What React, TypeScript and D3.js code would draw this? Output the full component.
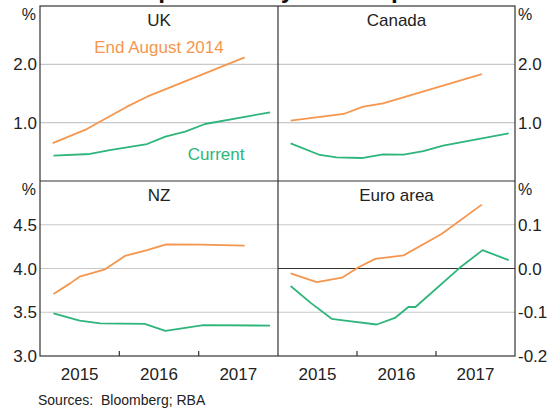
import React from "react";
import * as d3 from "d3";

type Pt = [number, number];

// Data: [time in years, value %]
const ukAug2014: Pt[] = [[2015.16, 0.65], [2015.59, 0.89], [2016.09, 1.27], [2016.35, 1.445], [2017.58, 2.12]];
const ukCurrent: Pt[] = [[2015.17, 0.434], [2015.63, 0.463], [2015.88, 0.531], [2016.35, 0.634], [2016.58, 0.76], [2016.83, 0.846], [2017.08, 0.977], [2017.9, 1.178]];
const caAug2014: Pt[] = [[2015.16, 1.034], [2015.83, 1.149], [2016.08, 1.274], [2016.33, 1.331], [2017.58, 1.834]];
const caCurrent: Pt[] = [[2015.16, 0.646], [2015.53, 0.446], [2015.74, 0.406], [2016.06, 0.394], [2016.33, 0.457], [2016.59, 0.451], [2016.84, 0.514], [2017.09, 0.606], [2017.92, 0.817]];
const nzAug2014: Pt[] = [[2015.17, 3.709], [2015.38, 3.83], [2015.5, 3.906], [2015.82, 3.991], [2016.07, 4.143], [2016.35, 4.211], [2016.59, 4.276], [2017.02, 4.272], [2017.58, 4.261]];
const nzCurrent: Pt[] = [[2015.17, 3.488], [2015.5, 3.404], [2015.76, 3.373], [2016.32, 3.366], [2016.58, 3.286], [2017.06, 3.354], [2017.9, 3.347]];
const euAug2014: Pt[] = [[2015.16, -0.011], [2015.49, -0.031], [2015.81, -0.021], [2016.02, 0.003], [2016.23, 0.022], [2016.59, 0.03], [2017.07, 0.079], [2017.58, 0.146]];
const euCurrent: Pt[] = [[2015.16, -0.04], [2015.41, -0.078], [2015.68, -0.115], [2015.85, -0.119], [2016.25, -0.128], [2016.48, -0.113], [2016.65, -0.088], [2016.74, -0.088], [2017.3, 0.0016], [2017.59, 0.042], [2017.92, 0.019]];

const years = [2015, 2016, 2017];
const title = "Market-implied Policy Rate Expectations";
const source = "Sources:  Bloomberg; RBA";

const ORANGE = "#f5964f";
const GREEN = "#2db57a";
const GRID = "#c8c8c8";
const FRAME = "#333";
const FONT = "Arial, 'Liberation Sans', sans-serif";

const L = 40, M = 278, R = 515, T = 6, HM = 181, B = 356;

interface Panel {
  name: string;
  x0: number; x1: number; y0: number; y1: number;
  domain: [number, number];
  grid: number[];
  zero?: number;
  labels: number[];
  side: "left" | "right";
  fmt: (v: number) => string;
  orange: Pt[];
  green: Pt[];
}

const panels: Panel[] = [
  { name: "UK", x0: L, x1: M, y0: T, y1: HM, domain: [0, 3], grid: [1, 2], labels: [1, 2], side: "left", fmt: d3.format(".1f"), orange: ukAug2014, green: ukCurrent },
  { name: "Canada", x0: M, x1: R, y0: T, y1: HM, domain: [0, 3], grid: [1, 2], labels: [1, 2], side: "right", fmt: d3.format(".1f"), orange: caAug2014, green: caCurrent },
  { name: "NZ", x0: L, x1: M, y0: HM, y1: B, domain: [3, 5], grid: [3.5, 4, 4.5], labels: [3, 3.5, 4, 4.5], side: "left", fmt: d3.format(".1f"), orange: nzAug2014, green: nzCurrent },
  { name: "Euro area", x0: M, x1: R, y0: HM, y1: B, domain: [-0.2, 0.2], grid: [-0.1, 0.1], zero: 0, labels: [-0.2, -0.1, 0, 0.1], side: "right", fmt: (v) => d3.format(".1f")(v).replace("−", "-"), orange: euAug2014, green: euCurrent },
];

function PanelView({ p }: { p: Panel }) {
  const x = d3.scaleLinear().domain([2015, 2018]).range([p.x0, p.x1]);
  const y = d3.scaleLinear().domain(p.domain).range([p.y1, p.y0]);
  const line = d3.line<Pt>().x((d) => x(d[0])).y((d) => y(d[1]));
  const isBottom = p.y1 === B;
  const lx = p.side === "left" ? p.x0 - 3 : p.x1 + 3;
  const anchor = p.side === "left" ? "end" : "start";
  const fs = 17;
  return (
    <g>
      {p.grid.map((g) => (
        <line key={g} x1={p.x0} x2={p.x1} y1={y(g)} y2={y(g)} stroke={GRID} strokeWidth={1.2} />
      ))}
      {p.zero !== undefined && (
        <line x1={p.x0} x2={p.x1} y1={y(p.zero)} y2={y(p.zero)} stroke={FRAME} strokeWidth={1.2} />
      )}
      <path d={line(p.orange) || ""} fill="none" stroke={ORANGE} strokeWidth={1.8} strokeLinejoin="round" />
      <path d={line(p.green) || ""} fill="none" stroke={GREEN} strokeWidth={1.8} strokeLinejoin="round" />
      <text x={(p.x0 + p.x1) / 2} y={p.y0 + 20} textAnchor="middle" fontSize={fs} fill="#222">{p.name}</text>
      {p.labels.map((v) => (
        <text key={v} x={lx} y={y(v) + fs * 0.36} textAnchor={anchor} fontSize={fs} fill="#222">{p.fmt(v)}</text>
      ))}
      <text x={p.side === "left" ? p.x0 - 4 : p.x1 + 3} y={p.y0 + 13.5} textAnchor={anchor} fontSize={16} fill="#222">%</text>
      {isBottom && years.slice(1).map((yr) => (
        <line key={yr} x1={x(yr)} x2={x(yr)} y1={B} y2={B - 5} stroke={FRAME} strokeWidth={1.2} />
      ))}
      {isBottom && years.map((yr) => (
        <text key={yr} x={x(yr + 0.5)} y={380} textAnchor="middle" fontSize={fs} fill="#222">{yr}</text>
      ))}
    </g>
  );
}

export default function App() {
  const uk = panels[0];
  const xs = d3.scaleLinear().domain([2015, 2018]).range([uk.x0, uk.x1]);
  return (
    <svg width={558} height={408} style={{ position: "absolute", left: 0, top: 0, background: "#fff" }} fontFamily={FONT}>
      <rect x={0} y={0} width={558} height={408} fill="#fff" />
      <text x={278} y={-2} textAnchor="middle" fontSize={24.5} fontWeight="bold" fill="#111">{title}</text>
      {panels.map((p) => <PanelView key={p.name} p={p} />)}
      <text x={xs(2016.5)} y={53} textAnchor="middle" fontSize={17} fill={ORANGE}>End August 2014</text>
      <text x={xs(2017.22)} y={160} textAnchor="middle" fontSize={17} fill={GREEN}>Current</text>
      {/* frame */}
      <rect x={L} y={T} width={R - L} height={B - T} fill="none" stroke={FRAME} strokeWidth={1.2} />
      <line x1={M} x2={M} y1={T} y2={B} stroke={FRAME} strokeWidth={1.2} />
      <line x1={L} x2={R} y1={HM} y2={HM} stroke={FRAME} strokeWidth={1.2} />
      <text x={38} y={405} fontSize={14} fill="#222" style={{ whiteSpace: "pre" }}>{source}</text>
    </svg>
  );
}
